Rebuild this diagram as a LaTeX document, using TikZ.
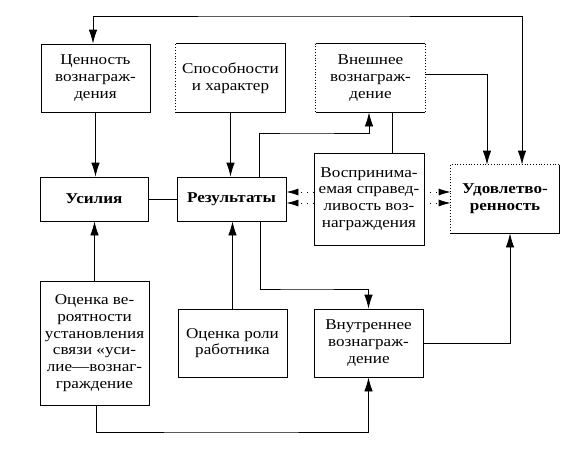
\documentclass[tikz,border=0pt]{standalone}
\usepackage{fontspec}
\setmainfont{Liberation Serif}[FakeStretch=1.14]
\usetikzlibrary{arrows.meta}

\begin{document}
\begin{tikzpicture}[x=1pt,y=-1pt,line width=0.8pt,
  box/.style={draw,minimum width=109pt,minimum height=68pt,align=center,inner sep=1pt,
    font=\fontsize{15}{16.7}\selectfont},
  arr/.style={-{Latex[length=14pt,width=8.5pt]}},
  arrs/.style={{Latex[length=14pt,width=8.5pt]}-{Latex[length=14pt,width=8.5pt]}},
  darr/.style={dash pattern=on 0.8pt off 5pt,-{Latex[length=12pt,width=7pt]}}]
\useasboundingbox (0,0) rectangle (572,453);
%----------------------------------
\node[box] (c1) at (95.5,78) {Ценность\\вознаграж-\\дения};
\node[box,draw=none] (s1) at (230.5,78) {Способности\\и характер};
\node[box,draw=none] (v1) at (370.5,78) {Внешнее\\вознаграж-\\дение};
%----------------------------------
\node[box,minimum width=108pt,minimum height=44pt,font=\fontsize{15}{16.7}\selectfont\bfseries] (u) at (94,199) {Усилия};
\node[box,minimum height=44pt,font=\fontsize{15}{16.7}\selectfont\bfseries] (r) at (231.5,199) {Результаты};
\node[box,minimum width=110pt,minimum height=92pt] (p) at (369,199) {Воспринима-\\емая справед-\\ливость воз-\\награждения};
\node[box,draw=none,minimum width=108pt,font=\fontsize{15}{16.7}\selectfont\bfseries] (ud) at (505,199) {Удовлетво-\\ренность};
%----------------------------------
\node[box,minimum height=124pt] (o1) at (94.5,343) {Оценка ве-\\роятности\\установления\\связи «уси-\\лие—вознаг-\\граждение};
\node[box] (o2) at (232.5,343) {Оценка роли\\работника};
\node[box] (vn) at (368.5,343) {Внутреннее\\вознаграж-\\дение};
%--------------------------------
\draw (s1.north west) -- (s1.north east) -- (s1.south east) -- (s1.south west);
\draw[dotted] (s1.south west) -- (s1.north west);
\draw (v1.north west) -- (v1.north east) (v1.south west) -- (v1.south east);
\draw[dotted] (v1.north west) -- (v1.south west) (v1.north east) -- (v1.south east);
\draw (ud.north east) -- (ud.south east) -- (ud.south west);
\draw[dotted] (ud.south west) -- (ud.north west) -- (ud.north east);
%--------------------------------
\coordinate (top) at (300,16);
\coordinate (m1) at (300,133);
\coordinate (m2) at (300,289);
\coordinate (bot) at (230,432);
%--------------------------------
\draw[arrs] ([xshift=17pt]ud.north) |- (top) -| ([xshift=-2.5pt]c1.north);
\draw[arr] (c1.south) -- (c1.south |- u.north);
\draw[arr] (s1.south) -- (s1.south |- r.north);
\draw (u) -- (r);
\draw[arr] (o1.north) -- (o1.north |- u.south);
\draw[arr] (o2.north) -- (o2.north |- r.south);
\draw[arr] ([xshift=1.5pt]o1.south) |- (bot) -| (vn.south);
\draw[arr] ([xshift=27.5pt]r.north) |- (m1) -| ([xshift=-1.5pt]v1.south);
\draw[arr] ([xshift=28.5pt]r.south) |- (m2) -| (vn.north);
\draw ([xshift=21.5pt]v1.south) -- ([xshift=21.5pt]v1.south |- p.north);
\draw[arr] ([yshift=4pt]v1.east) -| ([xshift=-18pt]ud.north);
\draw[arr] (vn.east) -| ([xshift=5pt]ud.south);
%--------------------------------
\draw[darr] ([yshift=7pt]p.west) -- ([yshift=7pt]p.west -| r.east);
\draw[darr] ([yshift=-4pt]p.west) -- ([yshift=-4pt]p.west -| r.east);
\draw[darr] ([yshift=7pt]p.east) -- ([yshift=7pt]p.east -| ud.west);
\draw[darr] ([yshift=-4pt]p.east) -- ([yshift=-4pt]p.east -| ud.west);
\end{tikzpicture}
\end{document}
